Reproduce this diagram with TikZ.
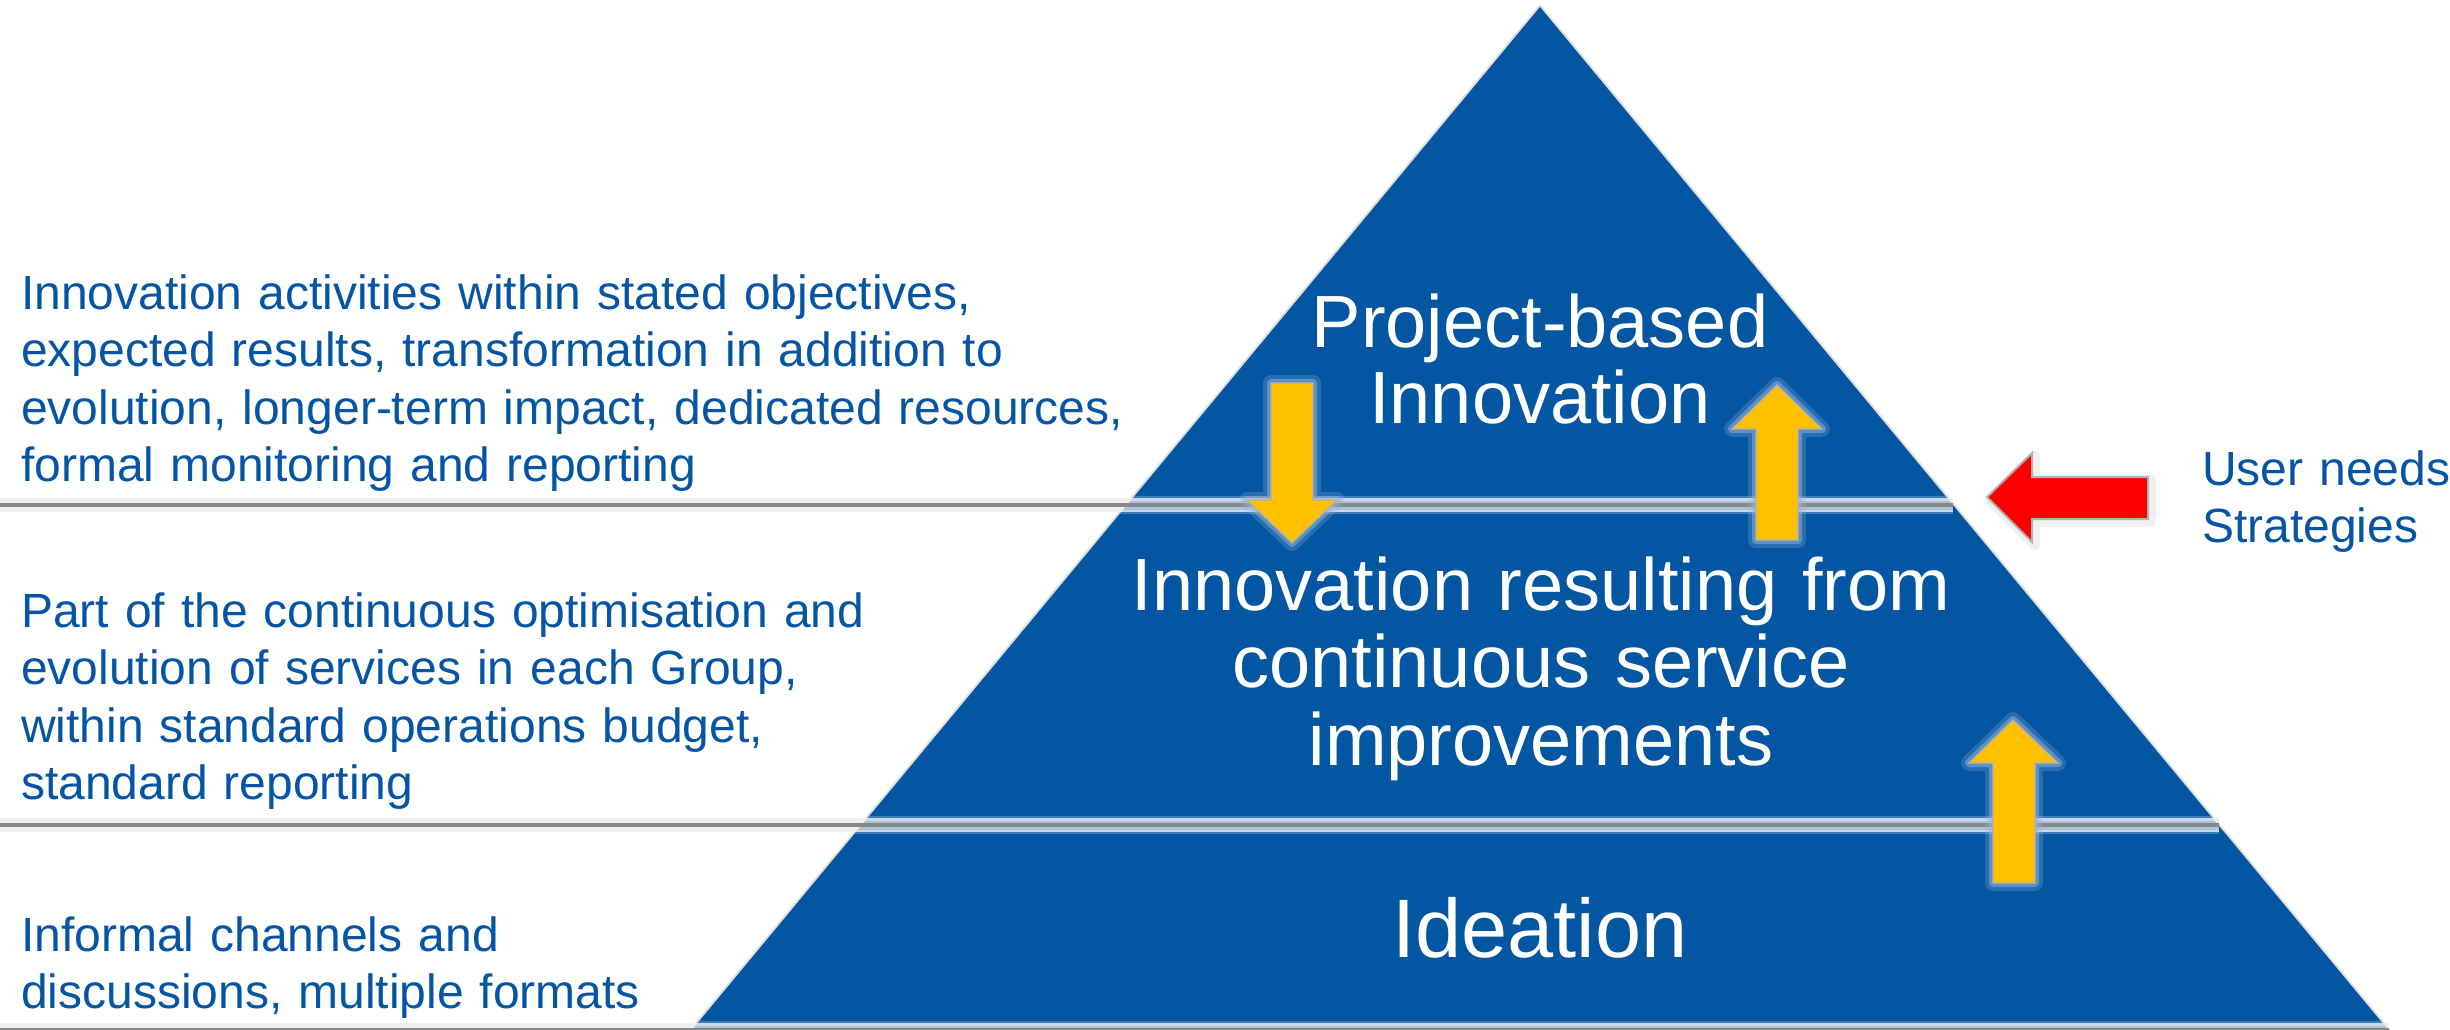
\documentclass[tikz,border=0pt]{standalone}
\usepackage{fontspec}
\setmainfont{Liberation Sans}
\definecolor{pblue}{RGB}{3,86,162}
\definecolor{tblue}{RGB}{6,85,165}
\definecolor{ayellow}{RGB}{255,192,0}
\definecolor{glowc}{RGB}{150,180,215}
\definecolor{lgray}{RGB}{135,135,135}
\begin{document}
\begin{tikzpicture}[x=1pt,y=-1pt,
  lefttext/.style={text=tblue, font=\fontsize{48}{57.5}\selectfont, inner sep=0pt, text width=1300pt, align=left, anchor=base west},
  tritext/.style={text=white, inner sep=0pt, text width=1100pt, align=center, anchor=base},
  yarrowst/.style={fill=ayellow, draw=black!30, line width=1.2pt,
    preaction={draw=glowc, line width=16pt, opacity=.25, line join=round},
    preaction={draw=glowc, line width=8pt, opacity=.5, line join=round}},
  rarrowst/.style={fill=red, draw=black!30, line width=2pt,
    preaction={draw=black, line width=10pt, opacity=.06, line join=round, transform canvas={shift={(3pt,-3pt)}}}},
  sepline/.style={lgray, line width=3.5pt},
  sepshadow/.style={black!6, line width=14pt},
]
\useasboundingbox (0,0) rectangle (2450,1029);
\fill[white] (0,0) rectangle (2450,1029);

% pyramid
\coordinate (apex) at (1540,7);
\coordinate (br) at (2389,1031);
\coordinate (bl) at (691,1031);
\draw[black!12, line width=4pt, line join=round] (apex) -- (br) -- (bl) -- cycle;
\fill[pblue] (apex) -- (br) -- (bl) -- cycle;

% separator lines
\coordinate (l1a) at (0,505);  \coordinate (l1b) at (1953,505);
\coordinate (l2a) at (0,825);  \coordinate (l2b) at (2219,825);
\coordinate (l3a) at (0,1030); \coordinate (l3b) at (2389,1030);
\foreach \a/\b in {l1a/l1b, l2a/l2b, l3a/l3b} \draw[sepshadow] (\a) -- (\b);
\begin{scope}
  \clip (apex) -- (br) -- (bl) -- cycle;
  \foreach \a/\b in {l1a/l1b, l2a/l2b, l3a/l3b} {
    \draw[glowc, line width=18pt, opacity=.4] (\a) -- (\b);
    \draw[glowc, line width=9pt, opacity=.6] (\a) -- (\b);
  }
\end{scope}
\foreach \a/\b in {l1a/l1b, l2a/l2b, l3a/l3b} \draw[sepline] (\a) -- (\b);

% yellow arrows
\path[yarrowst] (1271,383) -- (1313,383) -- (1313,500) -- (1337,500) -- (1292,543) -- (1247,500) -- (1271,500) -- cycle;
\path[yarrowst] (1777,385) -- (1822,429) -- (1798,429) -- (1798,540) -- (1756,540) -- (1756,429) -- (1732,429) -- cycle;
\path[yarrowst] (2013,720) -- (2058,763) -- (2035,763) -- (2035,883) -- (1993,883) -- (1993,763) -- (1969,763) -- cycle;

% red arrow
\path[rarrowst] (1987,497) -- (2032,453) -- (2032,477) -- (2148,477) -- (2148,519) -- (2032,519) -- (2032,542) -- cycle;

% texts in pyramid
\node[tritext, font=\fontsize{74}{76}\selectfont] (top) at (1540,347) {Project-based\\Innovation};
\node[tritext, font=\fontsize{74}{77.5}\selectfont] (mid) at (1541,610) {Innovation resulting from\\continuous service\\improvements};
\node[tritext, font=\fontsize{83}{90}\selectfont] (bot) at (1540,957) {Ideation};

% left descriptions
\node[lefttext] (d1) at (21,309) {Innovation activities within stated objectives,\\expected results, transformation in addition to\\evolution, longer-term impact, dedicated resources,\\formal monitoring and reporting};
\node[lefttext] (d2) at (21,627) {Part of the continuous optimisation and\\evolution of services in each Group,\\within standard operations budget,\\standard reporting};
\node[lefttext] (d3) at (21,951) {Informal channels and\\discussions, multiple formats};

% right label
\node[lefttext, text width=300pt] (user) at (2202,485) {User needs\\Strategies};
\end{tikzpicture}
\end{document}
